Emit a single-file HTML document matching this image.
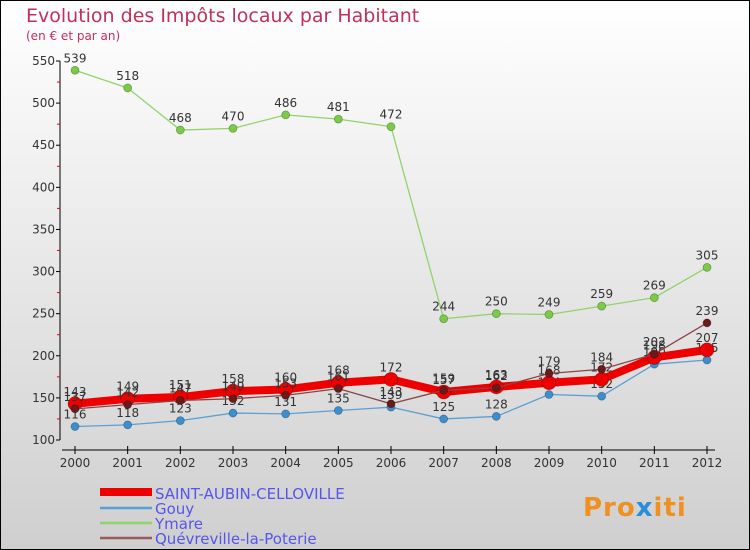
<!DOCTYPE html>
<html><head><meta charset="utf-8"><style>
body{margin:0;}
svg{display:block;font-family:"DejaVu Sans","Liberation Sans",sans-serif;}
</style></head><body>
<svg width="750" height="550" xmlns="http://www.w3.org/2000/svg">
<defs><linearGradient id="bg" x1="0" y1="0" x2="0" y2="1"><stop offset="0" stop-color="#ffffff"/><stop offset="1" stop-color="#cfcfcf"/></linearGradient></defs>
<rect x="0.5" y="0.5" width="749" height="549" fill="url(#bg)" stroke="#000"/>
<text x="26" y="22" font-size="19" fill="#c0305a">Evolution des Impôts locaux par Habitant</text>
<text x="26" y="40" font-size="12" fill="#c0305a">(en € et par an)</text>
<g id="axes"></g><g id="series"></g>
<g>
<rect x="100" y="488" width="52" height="8" fill="#e00"/>
<line x1="100" y1="508" x2="152" y2="508" stroke="#5b9fd3" stroke-width="2.5"/>
<line x1="100" y1="523" x2="152" y2="523" stroke="#8fd46a" stroke-width="2.5"/>
<line x1="100" y1="538" x2="152" y2="538" stroke="#9a5b5b" stroke-width="2.5"/>
<text x="155" y="499" font-size="15" fill="#5555ee">SAINT-AUBIN-CELLOVILLE</text>
<text x="155" y="514" font-size="15" fill="#5555ee">Gouy</text>
<text x="155" y="529" font-size="15" fill="#5555ee">Ymare</text>
<text x="155" y="544" font-size="15" fill="#5555ee">Quévreville-la-Poterie</text>
</g>
<text x="583" y="516" font-size="26" font-weight="bold" fill="#f09020" letter-spacing="1">Pro<tspan fill="#2a8fd8">x</tspan>iti</text>
</svg>
<script>
const years=[2000,2001,2002,2003,2004,2005,2006,2007,2008,2009,2010,2011,2012];
const yTicks=[100,150,200,250,300,350,400,450,500,550];
const saintAubin=[143,149,151,158,160,168,172,157,163,168,172,198,207];
const gouy=[116,118,123,132,131,135,139,125,128,154,152,190,195];
const ymare=[539,518,468,470,486,481,472,244,250,249,259,269,305];
const quevreville=[137,142,147,149,153,161,143,159,162,179,184,202,239];
const NS="http://www.w3.org/2000/svg";
const xS=i=>75+i*(707-75)/12;
const yS=v=>440-(v-100)*(440-61)/450;
function mk(tag,attrs,parent){const e=document.createElementNS(NS,tag);for(const k in attrs)e.setAttribute(k,attrs[k]);parent.appendChild(e);return e;}
const ax=document.getElementById('axes'),sr=document.getElementById('series');
let l=mk('line',{x1:60,y1:61,x2:60,y2:440,stroke:'#000'},ax);

l=mk('line',{x1:62,y1:450,x2:715,y2:450,stroke:'#000'},ax);

yTicks.forEach(v=>{
 const t=mk('line',{x1:56,x2:60,y1:yS(v),y2:yS(v),stroke:'#000'},ax);
 
 if(v<550){const m=mk('line',{x1:57,x2:60,y1:yS(v+25),y2:yS(v+25),stroke:'#e00'},ax);
 }
 const tx=mk('text',{x:55,y:yS(v)+4,'font-size':12,fill:'#333','text-anchor':'end'},ax);tx.textContent=v;
 
});
years.forEach((y,i)=>{
 const t=mk('line',{x1:xS(i),x2:xS(i),y1:446,y2:454,stroke:'#000'},ax);
 
 const tx=mk('text',{x:xS(i),y:467,'font-size':12,fill:'#333','text-anchor':'middle'},ax);tx.textContent=y;
 
});
function series(vals,name,color,dot,w,r){
 const g=mk('g',{},sr);
 const p=mk('polyline',{points:vals.map((v,i)=>xS(i)+','+yS(v)).join(' '),fill:'none',stroke:color,'stroke-width':w,'stroke-linejoin':'round'},g);
 
 vals.forEach((v,i)=>{
  const c=mk('circle',{cx:xS(i),cy:yS(v),r:r,fill:dot,stroke:'rgba(0,0,0,0.3)','stroke-width':0.8},g);
  
  const t=mk('text',{x:xS(i),y:yS(v)-8,'font-size':12,fill:'#333','text-anchor':'middle'},g);t.textContent=v;
  
 });
}
series(ymare,'ymare','#8fd46a','#7acc44',1.3,4);
series(gouy,'gouy','#5b9fd3','#3c8fcf',1.3,4);
series(saintAubin,'saint-aubin','#ee0000','#ee0000',8,7);
series(quevreville,'quevreville','#8a4444','#6a1a1a',1.3,4);
</script>
</body></html>
